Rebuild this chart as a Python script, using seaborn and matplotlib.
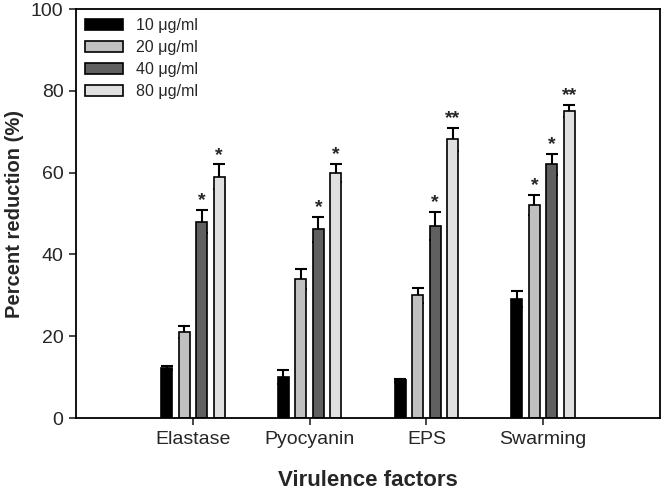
import numpy as np
import pandas as pd
import seaborn as sns
import matplotlib.pyplot as plt

factors = ["Elastase", "Pyocyanin", "EPS", "Swarming"]
doses = ["10 \u03bcg/ml", "20 \u03bcg/ml", "40 \u03bcg/ml", "80 \u03bcg/ml"]

# percent reduction per dose, in factor order
red_10 = [12.2, 10.0, 9.2, 29.1]
red_20 = [21.0, 34.0, 30.0, 52.1]
red_40 = [48.0, 46.1, 47.0, 62.0]
red_80 = [59.0, 60.0, 68.1, 75.1]

# upper error bars
err_10 = [0.4, 1.7, 0.3, 2.0]
err_20 = [1.5, 2.5, 1.9, 2.4]
err_40 = [2.8, 3.0, 3.4, 2.6]
err_80 = [3.0, 2.2, 2.9, 1.5]

# significance marks
sig_10 = ["", "", "", ""]
sig_20 = ["", "", "", "*"]
sig_40 = ["*", "*", "*", "*"]
sig_80 = ["*", "*", "**", "**"]

colors = ["#000000", "#c0c0c0", "#606060", "#e0e0e0"]

reds = [red_10, red_20, red_40, red_80]
errs = [err_10, err_20, err_40, err_80]
sigs = [sig_10, sig_20, sig_40, sig_80]

rows = []
for d, vals in zip(doses, reds):
    for f, v in zip(factors, vals):
        rows.append({"factor": f, "dose": d, "value": v})
df = pd.DataFrame(rows)

sns.set_style("ticks")
plt.rcParams["font.family"] = ["Liberation Sans", "DejaVu Sans"]

fig = plt.figure(figsize=(6.62, 4.94), dpi=100)
ax = fig.add_axes([76 / 662, 1 - 418 / 494, 584 / 662, 409 / 494])

sns.barplot(data=df, x="factor", y="value", hue="dose", order=factors,
            hue_order=doses, palette=colors, width=0.6, gap=0.37,
            edgecolor="black", linewidth=1.2, errorbar=None, ax=ax,
            zorder=2)

# symmetric bars drawn behind the bars so only the upper half shows
bar_groups = list(ax.containers)
for i, cont in enumerate(bar_groups):
    for j, bar in enumerate(cont.patches):
        x = bar.get_x() + bar.get_width() / 2
        h = bar.get_height()
        ax.errorbar(x, h, yerr=errs[i][j], fmt="none",
                    ecolor="black", elinewidth=1.5, capsize=4,
                    capthick=1.5, zorder=1)
        if sigs[i][j]:
            ax.text(x, h + errs[i][j] + 0.2, sigs[i][j], ha="center",
                    va="bottom", fontsize=14, fontweight="bold")

ax.set_xlim(-1, 4)
ax.set_ylim(0, 100)
ax.set_yticks([0, 20, 40, 60, 80, 100])
ax.set_xlabel("Virulence factors", fontsize=16, fontweight="bold", labelpad=16)
ax.set_ylabel("Percent reduction (%)", fontsize=14.5, fontweight="bold", labelpad=5)
ax.tick_params(axis="both", labelsize=14, length=5, width=1.2, direction="out", pad=4)
for s in ax.spines.values():
    s.set_visible(True)
    s.set_linewidth(1.3)
    s.set_color("black")

ax.legend(loc="upper left", frameon=False, fontsize=11.5, handlelength=2.4,
          handleheight=0.7, labelspacing=0.45, borderaxespad=0.15,
          bbox_to_anchor=(0.0, 1.0))

fig.savefig("out.png", dpi=100)
